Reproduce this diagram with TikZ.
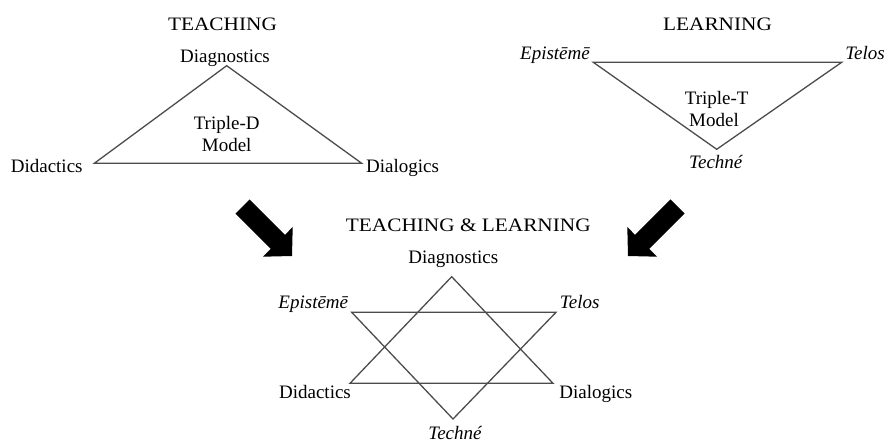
\documentclass[tikz,border=0pt]{standalone}
\usepackage{fontspec}
\setmainfont{Liberation Serif}
\newfontfamily\hdfont{Liberation Serif}[FakeStretch=1.12]
\begin{document}
\begin{tikzpicture}[x=1pt,y=-1pt,
  lbl/.style={inner sep=0pt,anchor=base,font=\fontsize{19}{22}\selectfont},
  ilbl/.style={lbl,font=\fontsize{19}{22}\selectfont\itshape},
  hdr/.style={inner sep=0pt,anchor=base,font=\fontsize{19}{22}\selectfont\hdfont},
  edge/.style={draw=black!70,line width=1.3pt,line join=miter},
  bigarrow/.style={fill=black}]
\useasboundingbox (0,0) rectangle (886,443);
% ---------- TEACHING ----------
\node[hdr] (teach) at (222.5,31) {TEACHING};
\node[lbl] (tdiag) at (225,63) {Diagnostics};
\node[lbl] (tdid) at (46.7,173) {Didactics};
\node[lbl] (tdial) at (402.5,173) {Dialogics};
\node[lbl] (tdm1) at (226.7,130) {Triple-D};
\node[lbl] (tdm2) at (226.7,151.5) {Model};
\coordinate (tA) at (226.7,65.7);
\coordinate (tL) at (94.3,163.3);
\coordinate (tR) at (361.7,163.3);
\draw[edge] (tA) -- (tL) -- (tR) -- cycle;
% ---------- LEARNING ----------
\node[hdr] (learn) at (717.5,31) {LEARNING};
\node[ilbl] (lepi) at (555,60) {Epistēmē};
\node[ilbl] (ltel) at (865,60) {Telos};
\node[ilbl] (ltech) at (715.8,168.3) {Techné};
\node[lbl] (ltm1) at (716.7,105) {Triple-T};
\node[lbl] (ltm2) at (714,126.5) {Model};
\coordinate (lE) at (593.3,62.3);
\coordinate (lT) at (841.7,62.3);
\coordinate (lB) at (716.7,149.3);
\draw[edge] (lE) -- (lT) -- (lB) -- cycle;
% ---------- arrows ----------
\fill[bigarrow] (292,256) -- (263.0,256.7) -- (270.8,248.9) -- (235.4,213.6)
  -- (249.6,199.4) -- (285.0,234.8) -- (292.7,227.0) -- cycle;
\fill[bigarrow] (628,256) -- (657.0,256.7) -- (649.2,248.9) -- (684.6,213.6)
  -- (670.4,199.4) -- (635.0,234.8) -- (627.3,227.0) -- cycle;
% ---------- TEACHING & LEARNING ----------
\node[hdr] (tl) at (468.3,231.7) {TEACHING \& LEARNING};
\node[lbl] (bdiag) at (453.3,264) {Diagnostics};
\node[ilbl] (bepi) at (313.3,308.3) {Epistēmē};
\node[ilbl] (btel) at (579.7,308.3) {Telos};
\node[lbl] (bdid) at (315,398.3) {Didactics};
\node[lbl] (bdial) at (595.8,398.3) {Dialogics};
\node[ilbl] (btech) at (455,439.5) {Techné};
\coordinate (sA) at (451.7,276.7);
\coordinate (sL) at (350,383.3);
\coordinate (sR) at (553,383.3);
\coordinate (sE) at (351.7,312.3);
\coordinate (sT) at (556,312.3);
\coordinate (sB) at (453,419);
\draw[edge] (sA) -- (sL) -- (sR) -- cycle;
\draw[edge] (sE) -- (sT) -- (sB) -- cycle;
\end{tikzpicture}
\end{document}
